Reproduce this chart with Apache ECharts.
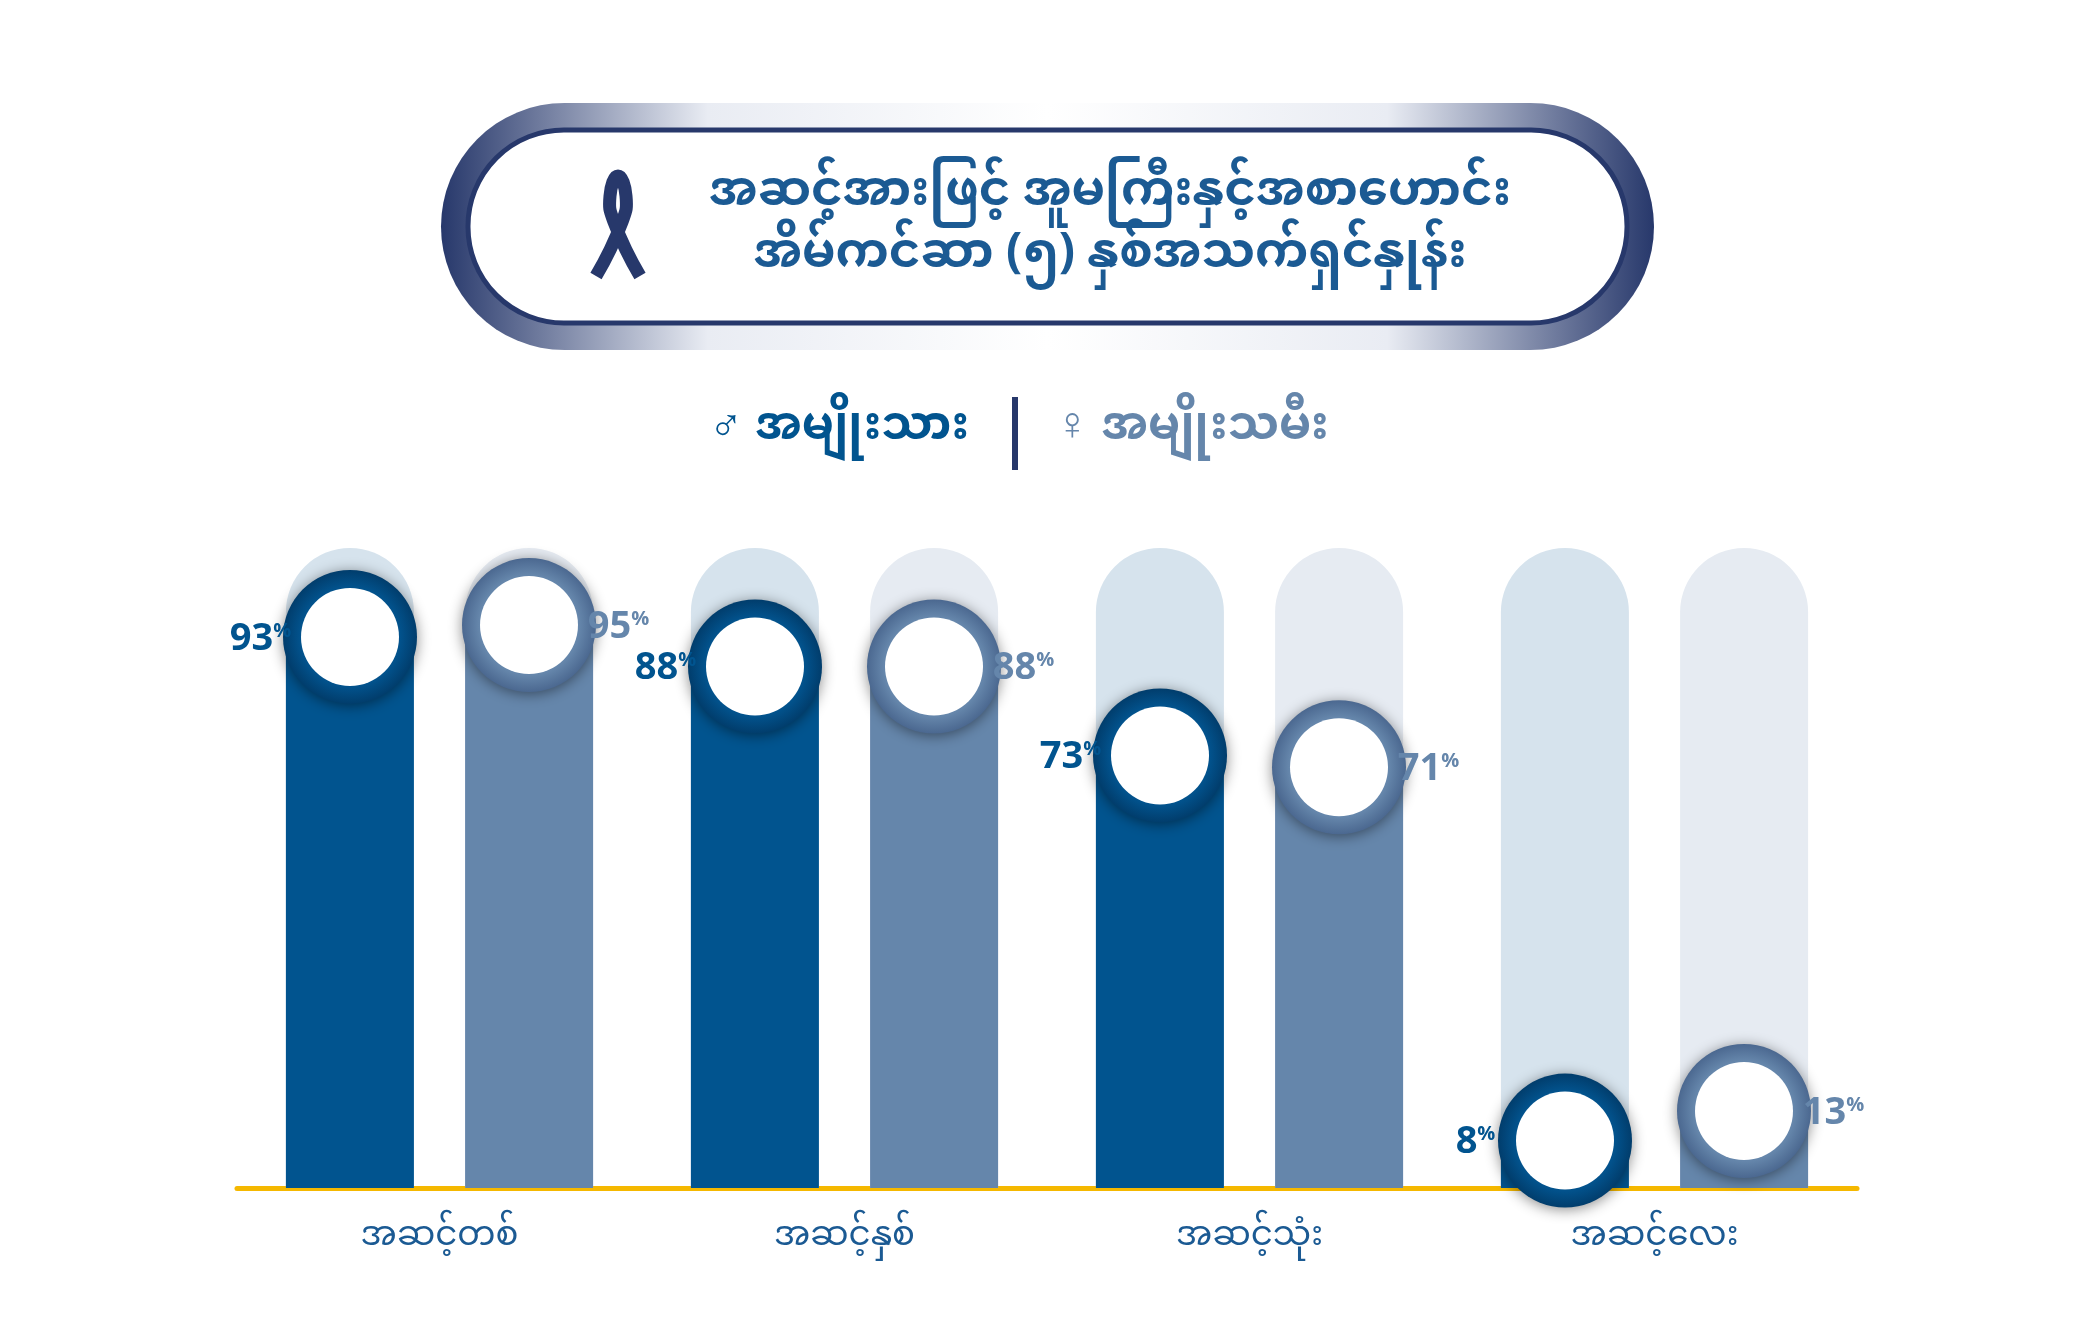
<!DOCTYPE html>
<html lang="my">
<head>
<meta charset="UTF-8">
<title>chart</title>
<script src="https://cdn.jsdelivr.net/npm/echarts@6/dist/echarts.min.js"></script>
<style>html,body{margin:0;background:#fff}#main{width:2084px;height:1334px}</style>
</head>
<body>
<div id="main"></div>
<script>
var categories = ['အဆင့်တစ်', 'အဆင့်နှစ်', 'အဆင့်သုံး', 'အဆင့်လေး'];
var male = [93, 88, 73, 8];
var female = [95, 88, 71, 13];
var full = [108, 108, 108, 108];
var titleLines = ['အဆင့်အားဖြင့် အူမကြီးနှင့်အစာဟောင်း', 'အိမ်ကင်ဆာ (၅) နှစ်အသက်ရှင်နှုန်း'];
var legendMale = '♂ အမျိုးသား';
var legendFemale = '♀ အမျိုးသမီး';

var mmFont = '"Noto Sans Myanmar", "Padauk", "Myanmar Text", "Noto Sans", sans-serif';
var cMale = '#01548f', cFemale = '#6586ab';
var off = 89.5;

function ring(c0, c1) {
    return new echarts.graphic.RadialGradient(0.5, 0.5, 0.5, [
        {offset: 0, color: c0}, {offset: 0.75, color: c0}, {offset: 1, color: c1}]);
}
function circles(vals, x, col, c0, c1) {
    return [{
        type: 'scatter', xAxisIndex: 1, data: vals, symbolSize: 134, symbolOffset: [x, 0], z: 5,
        itemStyle: {color: ring(c0, c1), shadowBlur: 14, shadowColor: 'rgba(0,0,0,0.45)', shadowOffsetY: 2, opacity: 1}
    }, {
        type: 'scatter', xAxisIndex: 1, data: vals, symbolSize: 98, symbolOffset: [x, 0], z: 6,
        itemStyle: {color: '#fff', opacity: 1},
        label: {
            show: true, position: 'inside', offset: [x, 2],
            formatter: function (p) { return '{n|' + p.value + '}{p|%}'; },
            rich: {
                n: {fontSize: 38, fontWeight: 'bold', color: col, fontFamily: 'Open Sans'},
                p: {fontSize: 20, fontWeight: 'bold', color: col, fontFamily: 'Open Sans', padding: [0, 0, 16, 0]}
            }
        }
    }];
}

var chart = echarts.init(document.getElementById('main'));
var option = {
    animation: false,
    grid: {left: 237, right: 227, top: 548, bottom: 146},
    xAxis: [{
        type: 'category', data: categories,
        axisLine: {lineStyle: {color: '#f5b800', width: 5}},
        axisTick: {show: false},
        axisLabel: {fontFamily: mmFont, fontSize: 34, color: '#1b5a93', margin: 36}
    }, {
        type: 'category', data: categories, show: false
    }],
    yAxis: {type: 'value', min: 0, max: 108, show: false, splitLine: {show: false}},
    series: [
        {type: 'bar', data: full, barWidth: 128, barGap: '40%', z: 1, itemStyle: {color: '#d6e3ed', borderRadius: [64, 64, 0, 0]}},
        {type: 'bar', data: full, barWidth: 128, barGap: '40%', z: 1, itemStyle: {color: '#e6ebf2', borderRadius: [64, 64, 0, 0]}},
        {type: 'bar', xAxisIndex: 1, data: male, barWidth: 128, barGap: '40%', z: 2, itemStyle: {color: cMale}},
        {type: 'bar', xAxisIndex: 1, data: female, barWidth: 128, barGap: '40%', z: 2, itemStyle: {color: cFemale}}
    ].concat(circles(male, -off, cMale, '#02528c', '#013d6c'), circles(female, off, cFemale, '#6586ab', '#4b6890')),
    graphic: [
        {type: 'rect', shape: {x: 441, y: 103, width: 1213, height: 247, r: 124}, z: 1,
         style: {fill: new echarts.graphic.LinearGradient(0, 0, 1, 0, [
             {offset: 0, color: '#27386b'}, {offset: 0.22, color: '#e9ecf3'}, {offset: 0.5, color: '#ffffff'},
             {offset: 0.78, color: '#e9ecf3'}, {offset: 1, color: '#27386b'}])}},
        {type: 'rect', shape: {x: 468, y: 130, width: 1159, height: 193, r: 96}, z: 2,
         style: {fill: '#fff', stroke: '#27386b', lineWidth: 5}},
        {type: 'polyline', z: 3, shape: {smooth: 0.5, points: [[596, 276], [622, 222], [626, 196], [618, 176], [610, 196], [614, 222], [640, 276]]},
         style: {stroke: '#27386b', lineWidth: 13, fill: null}},
        {type: 'text', x: 1110, y: 200, z: 3, style: {text: titleLines[0], font: 'bold 48px ' + mmFont, fill: '#1b5a93', align: 'center', verticalAlign: 'middle'}},
        {type: 'text', x: 1110, y: 262, z: 3, style: {text: titleLines[1], font: 'bold 48px ' + mmFont, fill: '#1b5a93', align: 'center', verticalAlign: 'middle'}},
        {type: 'text', x: 969, y: 434, style: {text: legendMale, font: 'bold 46px ' + mmFont, fill: cMale, align: 'right', verticalAlign: 'middle'}},
        {type: 'rect', shape: {x: 1012, y: 397, width: 6, height: 73}, style: {fill: '#27386b'}},
        {type: 'text', x: 1055, y: 434, style: {text: legendFemale, font: 'bold 46px ' + mmFont, fill: cFemale, align: 'left', verticalAlign: 'middle'}}
    ]
};
chart.setOption(option);
</script>
</body>
</html>
